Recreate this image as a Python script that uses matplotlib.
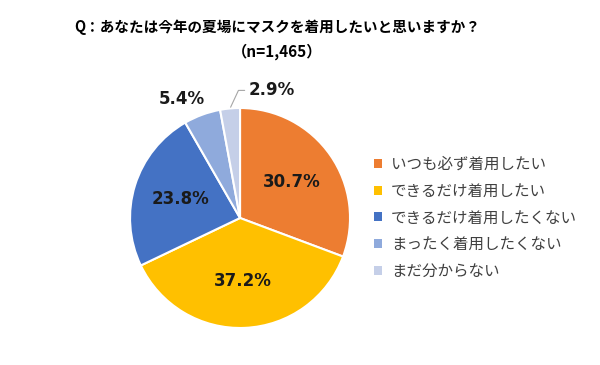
import numpy as np
import matplotlib.pyplot as plt

plt.rcParams['font.family'] = ['Noto Sans CJK JP', 'DejaVu Sans']

labels = ['いつも必ず着用したい', 'できるだけ着用したい', 'できるだけ着用したくない',
          'まったく着用したくない', 'まだ分からない']
values = [30.7, 37.2, 23.8, 5.4, 2.9]
colors = ['#ED7D31', '#FFC000', '#4472C4', '#8FAADC', '#C5CFE8']
title1 = 'Q：あなたは今年の夏場にマスクを着用したいと思いますか？'
title2 = '（n=1,465）'

fig = plt.figure(figsize=(6, 3.65), dpi=100)
ax = fig.add_axes([0.2167, 0.1014, 0.3667, 0.6027])

wedges, _ = ax.pie(values, colors=colors, startangle=90, counterclock=False,
                   wedgeprops=dict(edgecolor='white', linewidth=1.5))
ax.set_aspect('equal')
ax.set_xlim(-1, 1)
ax.set_ylim(-1, 1)

numfont = dict(fontsize=12, fontweight='bold', color='#1a1a1a', family='DejaVu Sans')

# ラベル配置
for i, (w, v) in enumerate(zip(wedges, values)):
    ang = np.deg2rad((w.theta1 + w.theta2) / 2)
    txt = f'{v:.1f}%'
    if v > 10:
        r = 0.57
        ax.text(r * np.cos(ang), r * np.sin(ang), txt, ha='center', va='center', **numfont)
    elif i == 3:
        r = 1.18
        ax.text(r * np.cos(ang) - 0.12, r * np.sin(ang) - 0.03, txt, ha='center', va='center',
                **numfont)
    else:
        x0, y0 = np.cos(ang), np.sin(ang)
        ax.annotate(txt, xy=(x0, y0), xytext=(0.08, 1.16),
                    ha='left', va='center', **numfont,
                    arrowprops=dict(arrowstyle='-', color='#A6A6A6', lw=0.8,
                                    connectionstyle='angle,angleA=0,angleB=65,rad=0',
                                    shrinkA=1, shrinkB=1),
                    annotation_clip=False)

fig.text(0.462, 0.926, title1, ha='center', va='center', fontsize=10.5, fontweight='bold')
fig.text(0.462, 0.858, title2, ha='center', va='center', fontsize=11, fontweight='bold')

leg = ax.legend(wedges, labels, loc='upper left', bbox_to_anchor=(1.047, 0.845),
                frameon=False, fontsize=11.2, handlelength=0.5, handleheight=0.5,
                handletextpad=0.55, labelspacing=0.62, labelcolor='#404040')
for h in leg.legend_handles:
    h.set_edgecolor('none')

fig.savefig('out.png', dpi=100, facecolor='white')
